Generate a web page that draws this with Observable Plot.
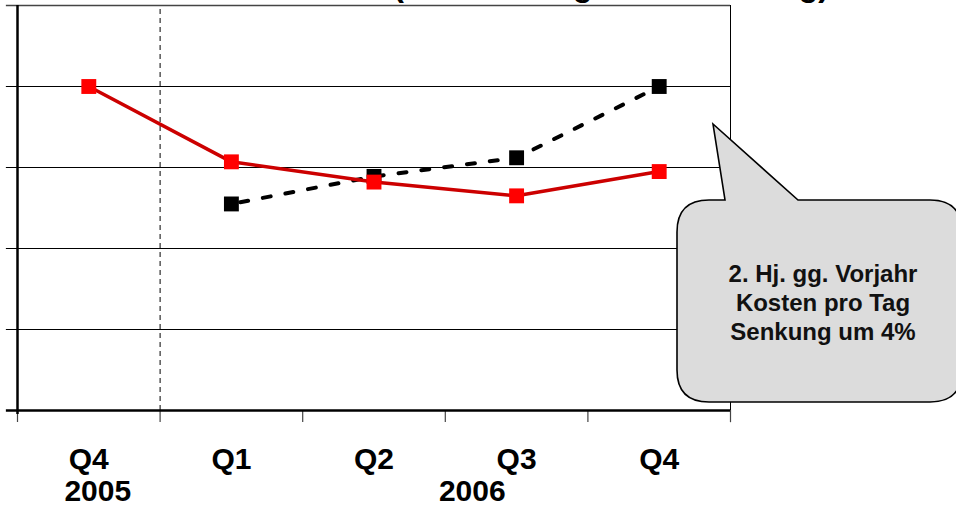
<!DOCTYPE html>
<html>
<head>
<meta charset="utf-8">
<script src="https://cdn.jsdelivr.net/npm/d3@7"></script>
<script src="https://cdn.jsdelivr.net/npm/@observablehq/plot@0.6"></script>
<style>
  html, body { margin: 0; padding: 0; background: #fff; overflow: hidden; }
  #chart { position: relative; width: 956px; height: 507px; }
</style>
</head>
<body>
<div id="chart"></div>
<script>
// Quarter categories along the x axis
const quarters = ["Q4", "Q1", "Q2", "Q3", "Q4"];
const years = ["2005", "2006"];
// Cost per day, current period (red) and previous year (black, dashed)
const seriesCurrent = [4.0, 3.07, 2.82, 2.65, 2.95];
const seriesPrevious = [null, 2.55, 2.89, 3.12, 4.0];
const yTicks = [0, 1, 2, 3, 4, 5];
const titleText = "Kosten (Abrechnung nach Leistung)";
const calloutLines = ["2. Hj. gg. Vorjahr", "Kosten pro Tag", "Senkung um 4%"];

const FONT = "'Liberation Sans', Arial, Helvetica, sans-serif";

const current = quarters.map((q, i) => ({i, q, v: seriesCurrent[i]}));
const previous = quarters.map((q, i) => ({i, q, v: seriesPrevious[i]})).filter(d => d.v != null);
const boundaries = d3.range(quarters.length + 1);

const plot = Plot.plot({
  width: 956,
  height: 507,
  marginLeft: 17,
  marginRight: 226,
  marginTop: 5,
  marginBottom: 97,
  x: {domain: [0, quarters.length], axis: null},
  y: {domain: [0, 5], axis: null},
  style: {fontFamily: FONT, background: "#fff"},
  marks: [
    // horizontal gridlines with small ticks on the left
    Plot.ruleY(yTicks.filter(v => v > 0 && v < 5), {x1: -0.078, x2: quarters.length, stroke: "#000", strokeWidth: 1}),
    Plot.ruleY([5], {x1: -0.078, x2: quarters.length, stroke: "#444", strokeWidth: 1.6}),
    // year separator
    Plot.ruleX([1], {y1: 0, y2: 5, stroke: "#000", strokeWidth: 1, strokeDasharray: "5,4"}),
    // right frame border
    Plot.ruleX([quarters.length], {y1: -0.15, y2: 5, stroke: "#000", strokeWidth: 1}),
    // x ticks at category boundaries
    Plot.ruleX(boundaries, {y1: 0, y2: -0.148, stroke: "#444", strokeWidth: 1.2}),
    // axes
    Plot.ruleX([0], {y1: -0.05, y2: 5, stroke: "#000", strokeWidth: 2.5}),
    Plot.ruleY([0], {x1: -0.078, x2: quarters.length, stroke: "#000", strokeWidth: 2.5}),
    // previous year series
    Plot.line(previous, {x: d => d.i + 0.5, y: "v", stroke: "#000", strokeWidth: 4, strokeDasharray: "8,15", strokeDashoffset: -9}),
    Plot.dot(previous, {x: d => d.i + 0.5, y: "v", symbol: "square", r: 8.4, fill: "#000", stroke: "none"}),
    // current series
    Plot.line(current, {x: d => d.i + 0.5, y: "v", stroke: "#cc0000", strokeWidth: 3.5}),
    Plot.dot(current, {x: d => d.i + 0.5, y: "v", symbol: "square", r: 8.4, fill: "#ff0000", stroke: "none"}),
    // category labels
    Plot.text(quarters, {x: (d, i) => i + 0.5, y: 0, text: d => d, dy: 49, fontSize: 30, fontWeight: "bold", fill: "#000"}),
    Plot.text(years, {x: (d, i) => i === 0 ? 0.5 : 3, y: 0, text: d => d, dy: 81, fontSize: 30, fontWeight: "bold", fill: "#000"})
  ]
});

document.getElementById("chart").appendChild(plot);

// shift the year labels to their positions under the quarters
const svg = d3.select(plot);
svg.selectAll("g[aria-label='text']").filter((d, i) => i === 1).selectAll("text")
  .attr("dx", (d, i) => i === 0 ? 9 : 27);

// title, mostly above the visible area
svg.append("text")
  .attr("x", 276).attr("y", -4)
  .style("font-family", FONT).style("font-size", "32px").style("font-weight", "bold")
  .style("text-anchor", "start").style("dominant-baseline", "alphabetic")
  .attr("fill", "#000")
  .text(titleText);

// speech-bubble annotation
const bx0 = 677, by0 = 200, bx1 = 962, by1 = 402, r = 32;
const tip = [713, 124], baseL = 725, baseR = 798;
const path = [
  `M${bx0 + r},${by0}`,
  `L${baseL},${by0}`,
  `L${tip[0]},${tip[1]}`,
  `L${baseR},${by0}`,
  `L${bx1 - r},${by0}`,
  `Q${bx1},${by0} ${bx1},${by0 + r}`,
  `L${bx1},${by1 - r}`,
  `Q${bx1},${by1} ${bx1 - r},${by1}`,
  `L${bx0 + r},${by1}`,
  `Q${bx0},${by1} ${bx0},${by1 - r}`,
  `L${bx0},${by0 + r}`,
  `Q${bx0},${by0} ${bx0 + r},${by0}`,
  "Z"
].join(" ");
svg.append("path")
  .attr("d", path)
  .attr("fill", "#dcdcdc")
  .attr("stroke", "#000")
  .attr("stroke-width", 1.6)
  .attr("stroke-linejoin", "miter");

svg.append("g")
  .style("font-family", FONT).style("font-size", "24px").style("font-weight", "bold")
  .style("text-anchor", "middle").attr("fill", "#111")
  .selectAll("text").data(calloutLines).join("text")
  .attr("x", 823)
  .attr("y", (d, i) => 282 + i * 28.8)
  .text(d => d);
</script>
</body>
</html>
